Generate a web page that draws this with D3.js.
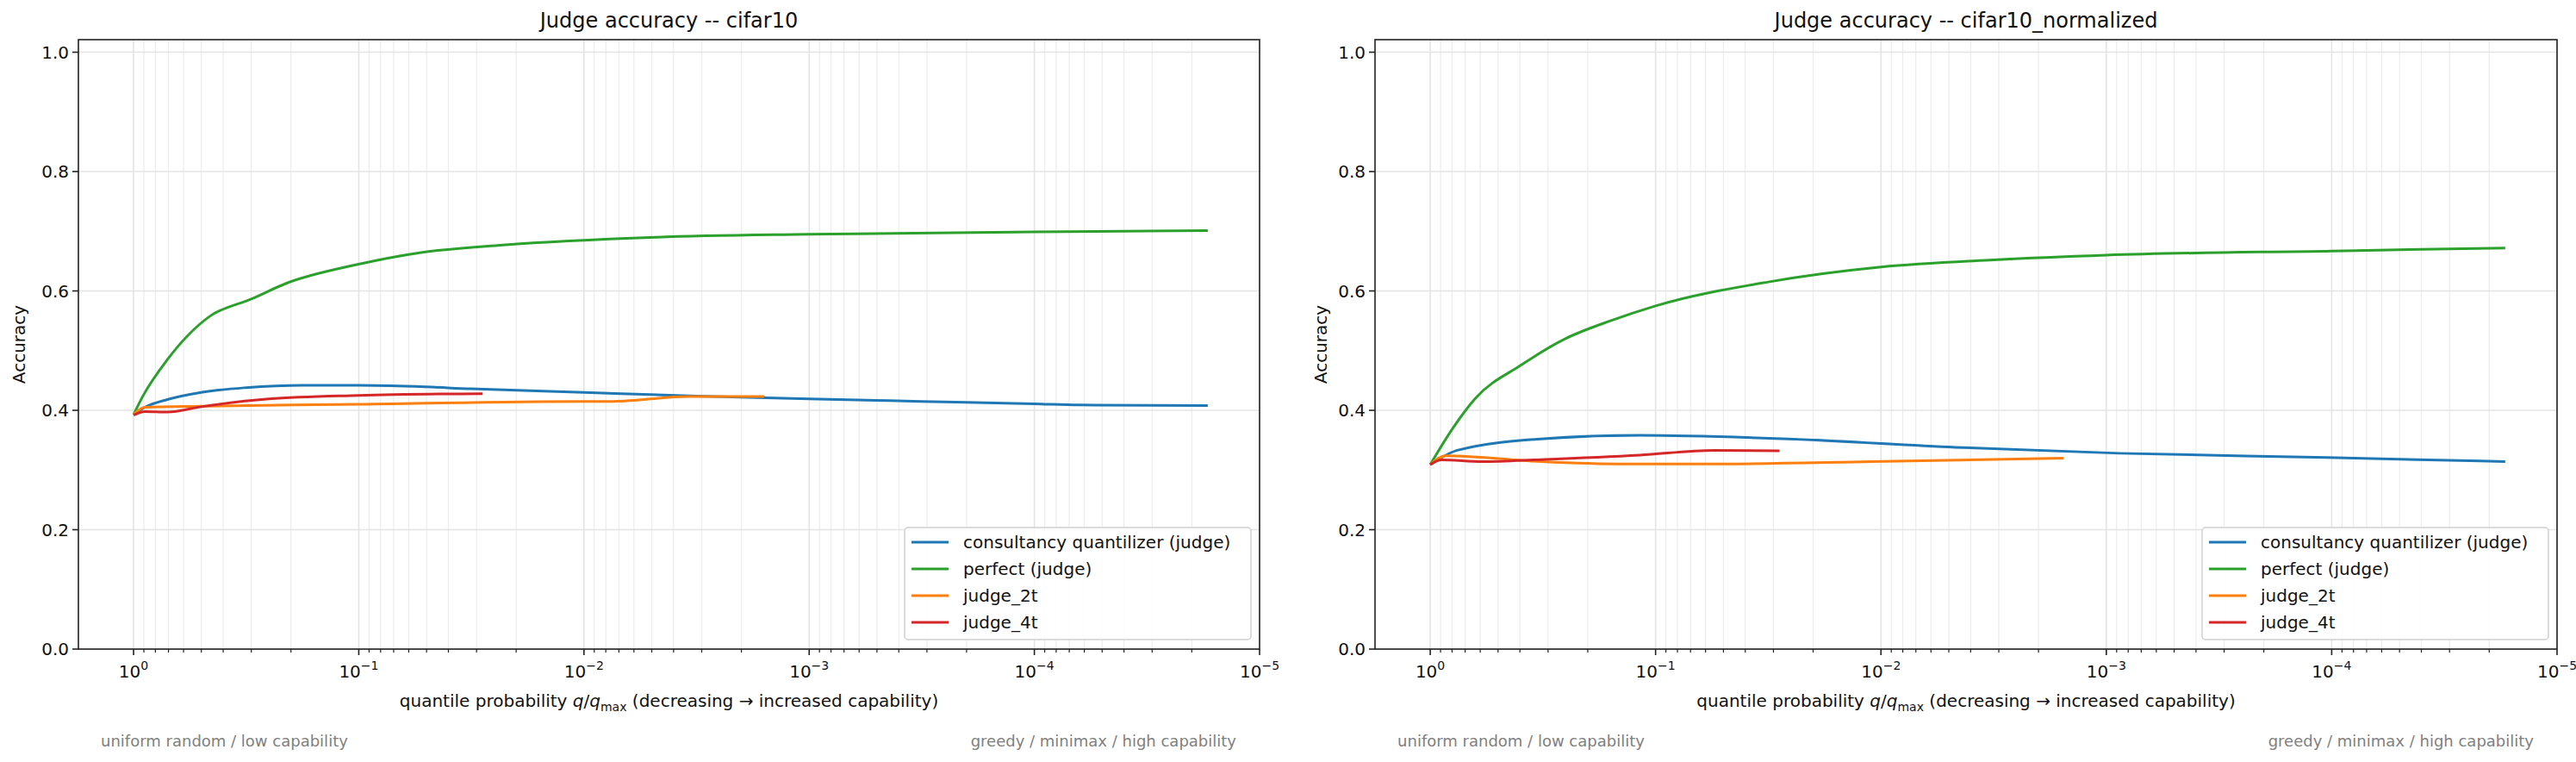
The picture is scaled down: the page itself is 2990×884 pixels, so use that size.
<!DOCTYPE html>
<html><head><meta charset="utf-8">
<script src="https://cdn.jsdelivr.net/npm/d3@7"></script>
<style>body{margin:0;background:#fff}text{font-family:"DejaVu Sans",sans-serif}</style>
</head><body><svg id="c" width="2990" height="884"></svg>
<script>
const seriesNames = ["consultancy quantilizer (judge)", "perfect (judge)", "judge_2t", "judge_4t"];
const colors = ["#1f77b4", "#2ca02c", "#ff7f0e", "#d62728"];
const titles = ["Judge accuracy -- cifar10", "Judge accuracy -- cifar10_normalized"];
const yTicks = [0, 0.2, 0.4, 0.6, 0.8, 1.0];
const xTickExps = [0, -1, -2, -3, -4, -5];
// x values given as decades below 1 (q = 10^-d)
const blueA_d = [0,0.05,0.15,0.3,0.5,0.75,1.0,1.25,1.5,2.0,2.5,3.0,3.5,4.0,4.2,4.77];
const blueA_v = [0.393,0.405,0.418,0.430,0.438,0.442,0.442,0.440,0.436,0.430,0.424,0.419,0.415,0.411,0.409,0.408];
const greenA_d = [0,0.04,0.15,0.34,0.52,0.68,0.99,1.27,1.64,2.32,3.0,4.0,4.77];
const greenA_v = [0.393,0.423,0.485,0.558,0.586,0.613,0.644,0.664,0.677,0.690,0.695,0.699,0.701];
const orangeA_d = [0,0.05,0.3,1.0,1.99,2.13,2.46,2.8];
const orangeA_v = [0.393,0.405,0.407,0.410,0.415,0.415,0.423,0.423];
const redA_d = [0,0.05,0.15,0.3,0.6,1.0,1.55];
const redA_v = [0.392,0.398,0.397,0.406,0.419,0.425,0.428];
const blueB_d = [0,0.12,0.49,0.93,1.59,2.33,3.06,3.98,4.77];
const blueB_v = [0.309,0.333,0.352,0.358,0.352,0.338,0.328,0.321,0.314];
const greenB_d = [0,0.1,0.2,0.4,0.6,0.8,1.0,1.5,2.0,2.5,3.0,4.0,4.77];
const greenB_v = [0.309,0.37,0.42,0.475,0.52,0.55,0.575,0.615,0.64,0.652,0.66,0.667,0.672];
const orangeB_d = [0,0.07,0.49,0.86,1.22,1.96,2.81];
const orangeB_v = [0.309,0.324,0.314,0.310,0.310,0.314,0.320];
const redB_d = [0,0.05,0.23,0.49,0.93,1.26,1.55];
const redB_v = [0.309,0.317,0.314,0.3175,0.325,0.333,0.332];

const panels = [
  {left:91, right:1462, data:[[blueA_d,blueA_v],[greenA_d,greenA_v],[orangeA_d,orangeA_v],[redA_d,redA_v]], ylab:29},
  {left:1596, right:2968, data:[[blueB_d,blueB_v],[greenB_d,greenB_v],[orangeB_d,orangeB_v],[redB_d,redB_v]], ylab:1540}
];
const pTop=46, pBottom=753;
const svg = d3.select("#c");
const sup = {"0":"0","-1":"−1","-2":"−2","-3":"−3","-4":"−4","-5":"−5"};
panels.forEach((p,pi)=>{
  const x = d3.scaleLog().domain([Math.pow(10,0.245), 1e-5]).range([p.left,p.right]);
  const y = d3.scaleLinear().domain([0,1.021]).range([pBottom,pTop]);
  const g = svg.append("g");
  const minors=[];
  for(let e=0;e>=-5;e--) for(let m=2;m<10;m++){const v=m*Math.pow(10,e-1); if(v<=x.domain()[0] && v>=1e-5) minors.push(v);}
  for(let m=2;m<10;m++){const v=m; if(v<=x.domain()[0]) minors.push(v);}
  g.selectAll(".mg").data(minors).join("line").attr("x1",d=>x(d)).attr("x2",d=>x(d)).attr("y1",pTop).attr("y2",pBottom).attr("stroke","#ececec").attr("stroke-width",1.2);
  const majors = xTickExps.map(e=>Math.pow(10,e));
  g.selectAll(".Mg").data(majors).join("line").attr("x1",d=>x(d)).attr("x2",d=>x(d)).attr("y1",pTop).attr("y2",pBottom).attr("stroke","#e4e4e4").attr("stroke-width",1.6);
  g.selectAll(".yg").data(yTicks).join("line").attr("x1",p.left).attr("x2",p.right).attr("y1",d=>y(d)).attr("y2",d=>y(d)).attr("stroke","#e4e4e4").attr("stroke-width",1.6);
  const line = d3.line().x(d=>x(d[0])).y(d=>y(d[1])).curve(d3.curveMonotoneX);
  p.data.forEach((s,si)=>{
    const pts = s[0].map((d,i)=>[Math.pow(10,-d), s[1][i]]);
    g.append("path").attr("d",line(pts)).attr("fill","none").attr("stroke",colors[si]).attr("stroke-width",3);
  });
  g.append("rect").attr("x",p.left).attr("y",pTop).attr("width",p.right-p.left).attr("height",pBottom-pTop).attr("fill","none").attr("stroke","#222").attr("stroke-width",1.6);
  g.selectAll(".mt").data(minors).join("line").attr("x1",d=>x(d)).attr("x2",d=>x(d)).attr("y1",pBottom).attr("y2",pBottom+4).attr("stroke","#222").attr("stroke-width",1.2);
  g.selectAll(".Mt").data(majors).join("line").attr("x1",d=>x(d)).attr("x2",d=>x(d)).attr("y1",pBottom).attr("y2",pBottom+7).attr("stroke","#222").attr("stroke-width",1.6);
  xTickExps.forEach(e=>{
    const t=g.append("text").attr("x",x(Math.pow(10,e))).attr("y",786).attr("text-anchor","middle").attr("font-size",20).attr("fill","#111");
    t.append("tspan").text("10");
    t.append("tspan").attr("dy",-9).attr("font-size",14).text(sup[String(e)]);
  });
  yTicks.forEach(v=>{
    g.append("line").attr("x1",p.left-7).attr("x2",p.left).attr("y1",y(v)).attr("y2",y(v)).attr("stroke","#222").attr("stroke-width",1.6);
    g.append("text").attr("x",p.left-11).attr("y",y(v)+7).attr("text-anchor","end").attr("font-size",20).attr("fill","#111").text(v.toFixed(1));
  });
  g.append("text").attr("transform",`translate(${p.ylab},${(pTop+pBottom)/2}) rotate(-90)`).attr("text-anchor","middle").attr("font-size",20).attr("fill","#111").text("Accuracy");
  g.append("text").attr("x",(p.left+p.right)/2).attr("y",32).attr("text-anchor","middle").attr("font-size",24).attr("fill","#111").text(titles[pi]);
  const xl=g.append("text").attr("x",(p.left+p.right)/2).attr("y",820).attr("text-anchor","middle").attr("font-size",20).attr("fill","#111");
  xl.append("tspan").text("quantile probability ");
  xl.append("tspan").attr("font-style","italic").text("q");
  xl.append("tspan").text("/");
  xl.append("tspan").attr("font-style","italic").text("q");
  xl.append("tspan").attr("dy",5).attr("font-size",14).text("max");
  xl.append("tspan").attr("dy",-5).text("  (decreasing → increased capability)");
  g.append("text").attr("x",x(1)-38).attr("y",866).attr("font-size",18).attr("fill","#808080").text("uniform random / low capability");
  g.append("text").attr("x",p.right-27).attr("y",866).attr("text-anchor","end").attr("font-size",18).attr("fill","#808080").text("greedy / minimax / high capability");
  const lx=p.right-412, ly=612;
  g.append("rect").attr("x",lx).attr("y",ly).attr("width",402).attr("height",130).attr("rx",4).attr("fill","#fff").attr("fill-opacity",0.85).attr("stroke","#d0d0d0").attr("stroke-width",1.5);
  seriesNames.forEach((n,i)=>{
    const yy=ly+17+i*31;
    g.append("line").attr("x1",lx+8).attr("x2",lx+51).attr("y1",yy).attr("y2",yy).attr("stroke",colors[i]).attr("stroke-width",3);
    g.append("text").attr("x",lx+68).attr("y",yy+7).attr("font-size",20).attr("fill","#111").text(n);
  });
});
</script></body></html>
